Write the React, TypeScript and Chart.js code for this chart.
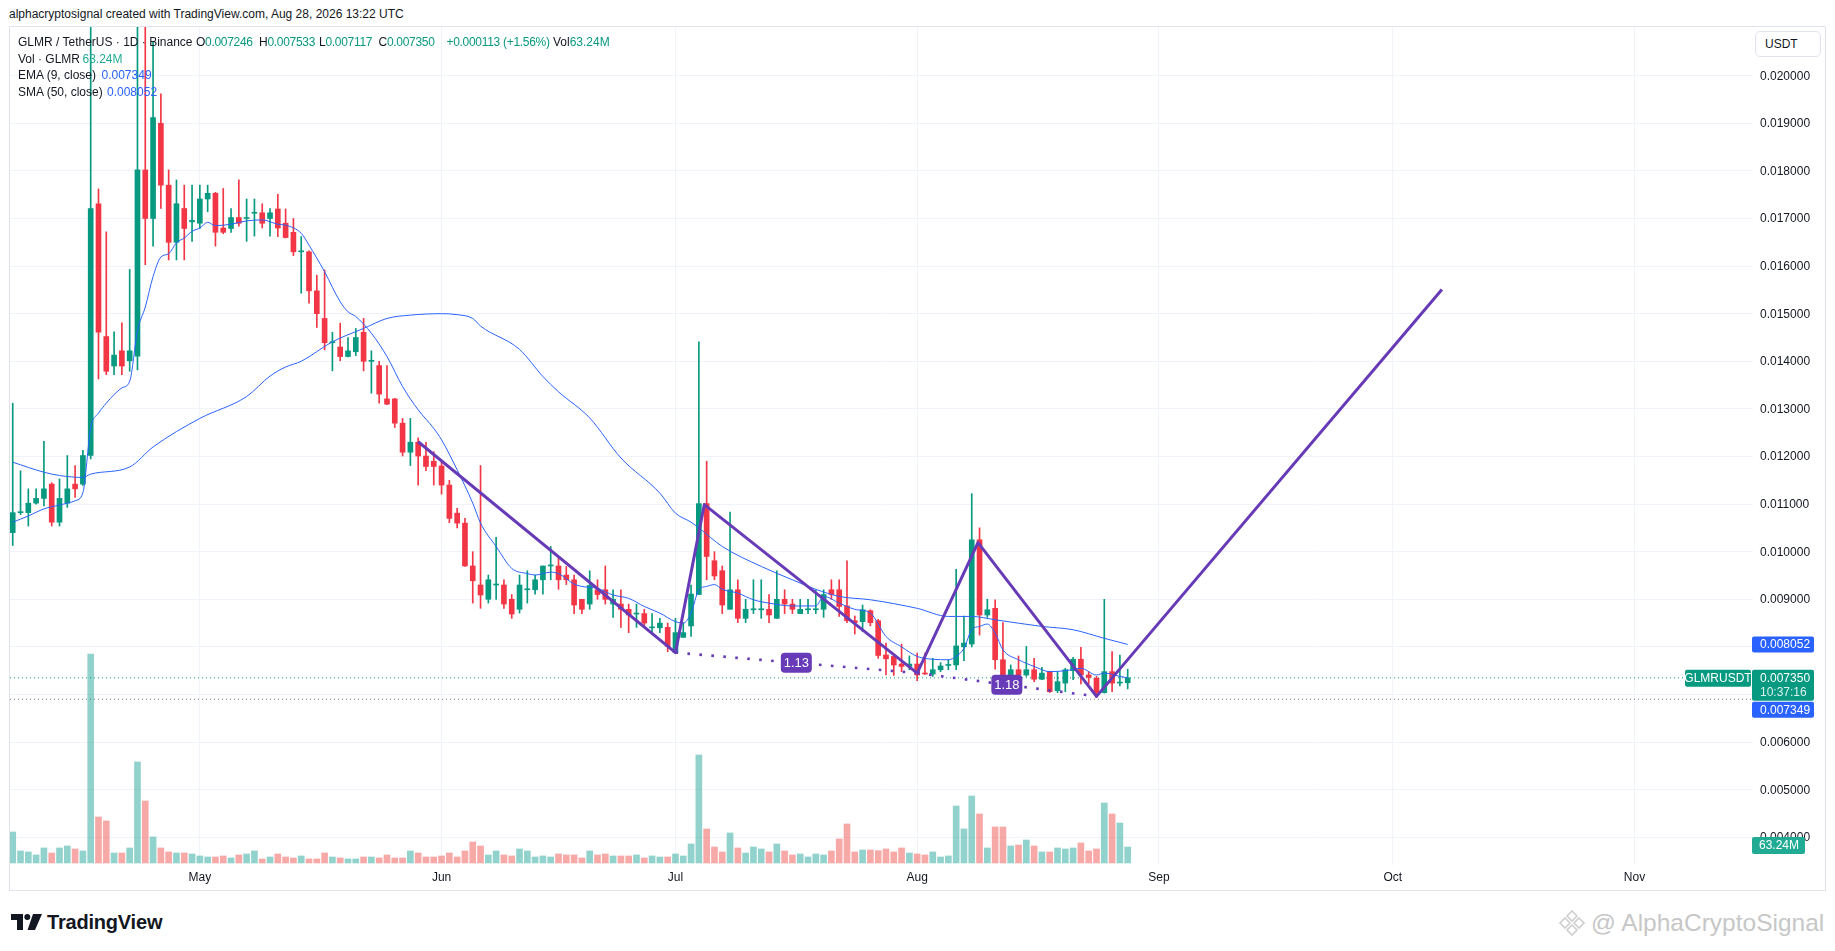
import React, { useEffect, useRef } from 'react';
import { Chart, registerables } from 'chart.js';

Chart.register(...registerables);

// ---------------- data (day index 0 = Apr 7, 2026, daily candles) ----------------
const monthTickDays = [24, 55, 85, 116, 147, 177, 208];
const monthTickLabels = ['May', 'Jun', 'Jul', 'Aug', 'Sep', 'Oct', 'Nov'];
const priceTicks = [0.004, 0.005, 0.006, 0.007, 0.008, 0.009, 0.01, 0.011, 0.012, 0.013, 0.014, 0.015, 0.016, 0.017, 0.018, 0.019, 0.02];
const hiddenPriceTicks = [0.007, 0.008];

const opens = [
  0.01040, 0.01082, 0.01082, 0.01102, 0.01112, 0.01142, 0.01062, 0.01102, 0.01142, 0.01142,
  0.01202, 0.01731, 0.01452, 0.01390, 0.01422, 0.01401, 0.01411, 0.01802, 0.01700, 0.01900,
  0.01770, 0.01650, 0.01721, 0.01693, 0.01690, 0.01741, 0.01753, 0.01680, 0.01679, 0.01702,
  0.01700, 0.01711, 0.01712, 0.01700, 0.01720, 0.01690, 0.01671, 0.01630, 0.01630, 0.01548,
  0.01490, 0.01439, 0.01430, 0.01410, 0.01420, 0.01461, 0.01400, 0.01391, 0.01321, 0.01321,
  0.01270, 0.01209, 0.01230, 0.01201, 0.01190, 0.01180, 0.01140, 0.01081, 0.01060, 0.00970,
  0.00930, 0.00900, 0.00930, 0.00930, 0.00900, 0.00879, 0.00920, 0.00920, 0.00941, 0.00970,
  0.00970, 0.00951, 0.00941, 0.00900, 0.00890, 0.00920, 0.00920, 0.00890, 0.00890, 0.00879,
  0.00869, 0.00870, 0.00840, 0.00840, 0.00841, 0.00788, 0.00820, 0.00844, 0.00910, 0.01101,
  0.00981, 0.00960, 0.00879, 0.00920, 0.00860, 0.00878, 0.00878, 0.00879, 0.00860, 0.00900,
  0.00890, 0.00870, 0.00878, 0.00878, 0.00879, 0.00920, 0.00920, 0.00886, 0.00855, 0.00853,
  0.00876, 0.00855, 0.00783, 0.00780, 0.00764, 0.00759, 0.00764, 0.00744, 0.00743, 0.00752,
  0.00761, 0.00762, 0.00800, 0.00806, 0.01025, 0.00867, 0.00881, 0.00773, 0.00729, 0.00752,
  0.00741, 0.00752, 0.00732, 0.00748, 0.00708, 0.00724, 0.00750, 0.00774, 0.00741, 0.00734,
  0.00704, 0.00748, 0.00724, 0.007246,
];
const highs = [
  0.01312, 0.01170, 0.01132, 0.01132, 0.01232, 0.01145, 0.01153, 0.01202, 0.01181, 0.01213,
  0.02150, 0.01762, 0.01672, 0.01462, 0.01481, 0.01593, 0.02150, 0.02130, 0.02071, 0.01962,
  0.01802, 0.01781, 0.01770, 0.01770, 0.01770, 0.01770, 0.01755, 0.01763, 0.01721, 0.01781,
  0.01741, 0.01741, 0.01731, 0.01721, 0.01751, 0.01720, 0.01700, 0.01662, 0.01632, 0.01581,
  0.01592, 0.01461, 0.01480, 0.01450, 0.01469, 0.01490, 0.01422, 0.01400, 0.01391, 0.01322,
  0.01280, 0.01280, 0.01239, 0.01230, 0.01210, 0.01190, 0.01150, 0.01091, 0.01070, 0.01000,
  0.01181, 0.00951, 0.01030, 0.00941, 0.00910, 0.00951, 0.00960, 0.00951, 0.00970, 0.01011,
  0.00990, 0.00969, 0.00951, 0.00900, 0.00960, 0.00941, 0.00970, 0.00920, 0.00920, 0.00890,
  0.00890, 0.00879, 0.00870, 0.00860, 0.00850, 0.00860, 0.00851, 0.00930, 0.01441, 0.01190,
  0.01000, 0.00970, 0.01083, 0.00941, 0.00900, 0.00941, 0.00941, 0.00910, 0.00960, 0.00920,
  0.00900, 0.00900, 0.00900, 0.00920, 0.00920, 0.00941, 0.00941, 0.00981, 0.00865, 0.00888,
  0.00878, 0.00858, 0.00808, 0.00783, 0.00806, 0.00781, 0.00787, 0.00787, 0.00776, 0.00767,
  0.00773, 0.00963, 0.00865, 0.01122, 0.01050, 0.00900, 0.00899, 0.00851, 0.00762, 0.00781,
  0.00801, 0.00776, 0.00757, 0.00749, 0.00748, 0.00755, 0.00778, 0.00799, 0.00748, 0.00738,
  0.00900, 0.00790, 0.00783, 0.007533,
];
const lows = [
  0.01013, 0.01078, 0.01054, 0.01100, 0.01096, 0.01054, 0.01054, 0.01093, 0.01114, 0.01139,
  0.01195, 0.01363, 0.01372, 0.01372, 0.01372, 0.01379, 0.01382, 0.01603, 0.01642, 0.01721,
  0.01613, 0.01613, 0.01613, 0.01652, 0.01679, 0.01714, 0.01642, 0.01668, 0.01671, 0.01684,
  0.01652, 0.01663, 0.01680, 0.01663, 0.01662, 0.01659, 0.01622, 0.01543, 0.01522, 0.01471,
  0.01424, 0.01380, 0.01401, 0.01409, 0.01412, 0.01380, 0.01333, 0.01312, 0.01309, 0.01261,
  0.01201, 0.01181, 0.01140, 0.01170, 0.01140, 0.01121, 0.01061, 0.01050, 0.00969, 0.00892,
  0.00881, 0.00892, 0.00900, 0.00881, 0.00860, 0.00871, 0.00892, 0.00911, 0.00911, 0.00941,
  0.00921, 0.00931, 0.00870, 0.00870, 0.00879, 0.00900, 0.00890, 0.00862, 0.00841, 0.00830,
  0.00841, 0.00841, 0.00830, 0.00830, 0.00790, 0.00788, 0.00820, 0.00822, 0.00910, 0.00941,
  0.00941, 0.00870, 0.00879, 0.00851, 0.00851, 0.00870, 0.00860, 0.00851, 0.00860, 0.00870,
  0.00870, 0.00870, 0.00870, 0.00870, 0.00862, 0.00900, 0.00864, 0.00851, 0.00827, 0.00832,
  0.00844, 0.00776, 0.00741, 0.00740, 0.00748, 0.00752, 0.00729, 0.00742, 0.00738, 0.00748,
  0.00752, 0.00752, 0.00771, 0.00800, 0.00825, 0.00862, 0.00753, 0.00727, 0.00725, 0.00727,
  0.00738, 0.00727, 0.00731, 0.00704, 0.00704, 0.00706, 0.00731, 0.00722, 0.00722, 0.00694,
  0.00703, 0.00706, 0.00718, 0.007117,
];
const closes = [
  0.01082, 0.01084, 0.01102, 0.01112, 0.01132, 0.01062, 0.01112, 0.01132, 0.01132, 0.01202,
  0.01721, 0.01461, 0.01379, 0.01413, 0.01390, 0.01422, 0.01802, 0.01700, 0.01912, 0.01770,
  0.01650, 0.01731, 0.01679, 0.01696, 0.01741, 0.01753, 0.01671, 0.01671, 0.01702, 0.01690,
  0.01701, 0.01713, 0.01690, 0.01712, 0.01680, 0.01660, 0.01630, 0.01631, 0.01548, 0.01500,
  0.01439, 0.01440, 0.01410, 0.01422, 0.01450, 0.01400, 0.01401, 0.01331, 0.01310, 0.01270,
  0.01209, 0.01230, 0.01201, 0.01179, 0.01179, 0.01140, 0.01070, 0.01060, 0.00970, 0.00939,
  0.00909, 0.00941, 0.00931, 0.00890, 0.00869, 0.00930, 0.00921, 0.00941, 0.00970, 0.00971,
  0.00941, 0.00941, 0.00888, 0.00879, 0.00929, 0.00910, 0.00900, 0.00900, 0.00879, 0.00867,
  0.00870, 0.00850, 0.00841, 0.00850, 0.00801, 0.00830, 0.00830, 0.00911, 0.01101, 0.00990,
  0.00949, 0.00888, 0.00920, 0.00860, 0.00879, 0.00879, 0.00879, 0.00867, 0.00900, 0.00890,
  0.00879, 0.00879, 0.00879, 0.00879, 0.00910, 0.00910, 0.00885, 0.00855, 0.00851, 0.00878,
  0.00851, 0.00782, 0.00775, 0.00762, 0.00759, 0.00764, 0.00741, 0.00743, 0.00752, 0.00760,
  0.00762, 0.00802, 0.00808, 0.01025, 0.00867, 0.00878, 0.00773, 0.00729, 0.00752, 0.00741,
  0.00752, 0.00732, 0.00745, 0.00706, 0.00727, 0.00752, 0.00774, 0.00741, 0.00736, 0.00704,
  0.00748, 0.00724, 0.00725, 0.00735,
];
const volumesM = [
  122.5, 47.4, 43.5, 31.6, 59.3, 39.5, 59.3, 67.2, 55.3, 47.4,
  826, 181.8, 166, 39.5, 39.5, 59.3, 399.2, 245, 102.8, 59.3,
  43.5, 39.5, 39.5, 35.6, 27.7, 23.7, 23.7, 27.7, 19.8, 31.6,
  35.6, 47.4, 15.8, 23.7, 35.6, 23.7, 19.8, 27.7, 15.8, 15.8,
  39.5, 23.7, 19.8, 15.8, 15.8, 23.7, 23.7, 19.8, 31.6, 19.8,
  19.8, 47.4, 39.5, 23.7, 23.7, 27.7, 39.5, 23.7, 47.4, 83,
  67.2, 31.6, 47.4, 31.6, 27.7, 55.3, 47.4, 23.7, 27.7, 23.7,
  35.6, 31.6, 31.6, 19.8, 47.4, 31.6, 35.6, 27.7, 27.7, 27.7,
  31.6, 19.8, 27.7, 23.7, 23.7, 35.6, 27.7, 75.1, 426.9, 134.4,
  63.2, 43.5, 118.6, 59.3, 39.5, 63.2, 55.3, 43.5, 75.1, 47.4,
  31.6, 35.6, 23.7, 35.6, 31.6, 47.4, 94.9, 154.1, 43.5, 51.4,
  51.4, 48.7, 55.3, 43.5, 59.3, 39.5, 35.6, 31.6, 43.5, 23.7,
  27.7, 225.3, 134.4, 264.8, 193.7, 59.3, 142.3, 142.3, 67.2, 71.1,
  90.9, 67.2, 43.5, 43.5, 59.3, 55.3, 59.3, 79, 47.4, 55.3,
  237.2, 193.7, 158.1, 63.24,
];

const emaDays = [0, 2, 4, 6, 8, 9, 10, 11, 12, 13, 14, 15, 16, 17, 18, 19, 20, 21, 22, 23, 24, 25, 26, 28, 30, 32, 34, 35, 37, 38, 40, 42, 43, 44, 46, 48, 50, 52, 54, 55, 57, 59, 60, 62, 64, 66, 67, 69, 70, 72, 73, 75, 77, 79, 81, 83, 85, 86, 87, 88, 89, 90, 91, 93, 95, 97, 100, 103, 104, 106, 108, 110, 112, 114, 116, 118, 120, 121, 122, 123, 124, 125, 126, 127, 129, 131, 133, 135, 137, 139, 140, 142, 143];
const emaValues = [0.01062, 0.01075, 0.0109, 0.01098, 0.01107, 0.01124, 0.0126, 0.01291, 0.01312, 0.0133, 0.01344, 0.01358, 0.01464, 0.01514, 0.01578, 0.01619, 0.01626, 0.01649, 0.01659, 0.01673, 0.0168, 0.01692, 0.01685, 0.01688, 0.01695, 0.01697, 0.01688, 0.01686, 0.01669, 0.01644, 0.01588, 0.01525, 0.01504, 0.01494, 0.01459, 0.0141, 0.01347, 0.01298, 0.01259, 0.01235, 0.01172, 0.01102, 0.0106, 0.01011, 0.00965, 0.00954, 0.00951, 0.00957, 0.00954, 0.00932, 0.00927, 0.00923, 0.00909, 0.00902, 0.00885, 0.00871, 0.00853, 0.0085, 0.00871, 0.0092, 0.00927, 0.00931, 0.00921, 0.00913, 0.00899, 0.00892, 0.00886, 0.00886, 0.00906, 0.00892, 0.00879, 0.00871, 0.00822, 0.008, 0.0078, 0.00774, 0.00773, 0.0078, 0.00797, 0.00836, 0.00843, 0.00848, 0.00829, 0.00794, 0.00773, 0.00759, 0.00748, 0.0075, 0.00755, 0.00741, 0.00745, 0.00738, 0.007349];

const smaDays = [0, 4, 6, 9, 10, 15, 18, 24, 30, 33, 35, 37, 41, 45, 48, 51, 55, 57, 59, 60, 65, 68, 70, 74, 78, 83, 85, 87, 88, 91, 96, 100, 103, 106, 110, 116, 120, 123, 126, 132, 136, 140, 143];
const smaValues = [0.01188, 0.01167, 0.0116, 0.01156, 0.01163, 0.01178, 0.0122, 0.0128, 0.01326, 0.01369, 0.01388, 0.014, 0.01441, 0.01469, 0.0149, 0.01497, 0.015, 0.01498, 0.0149, 0.01474, 0.01425, 0.01368, 0.01336, 0.01281, 0.01197, 0.01123, 0.01081, 0.01062, 0.0105, 0.01011, 0.00969, 0.00941, 0.00921, 0.00906, 0.00899, 0.00881, 0.00864, 0.00864, 0.00857, 0.00843, 0.00836, 0.00818, 0.008052];

const patternDays = [52, 85, 88.7, 116, 123.8, 139, 183.3];
const patternPrices = [0.01231, 0.00788, 0.01099, 0.00745, 0.01019, 0.00696, 0.01551];
const ratioLegStartDays = [85, 116];
const ratioLegStartPrices = [0.00788, 0.00745];
const ratioLegEndDays = [116, 139];
const ratioLegEndPrices = [0.00745, 0.00696];
const ratioLabels = ['1.13', '1.18'];

const lastPrice = 0.00735;
const lastPriceText = '0.007350';
const countdownText = '10:37:16';
const emaLast = 0.007349;
const smaLast = 0.008052;
const lastVolumeM = 63.24;
const lastVolumeText = '63.24M';
const referenceLevel = 0.0069;

// ---------------- styling constants ----------------
const FONT = "'Liberation Sans', Arial, sans-serif";
const UP = '#089981';
const DOWN = '#f23645';
const VOL_UP = 'rgba(38,166,154,0.5)';
const VOL_DOWN = 'rgba(239,83,80,0.5)';
const MA_BLUE = '#2962ff';
const PURPLE = '#673ab7';
const GRID = '#f0f3fa';
const TEXT = '#131722';
const X_MIN = -0.35;
const X_MAX = 223.2;
const Y_MIN = 0.003418;
const Y_MAX = 0.021023;

function box(ctx: CanvasRenderingContext2D, x: number, y: number, w: number, h: number, r: number, fill: string) {
  ctx.fillStyle = fill;
  ctx.beginPath();
  if ((ctx as any).roundRect) (ctx as any).roundRect(x, y, w, h, r);
  else ctx.rect(x, y, w, h);
  ctx.fill();
}

const labelPlugin = {
  id: 'tvLabels',
  afterDraw(chart: any) {
    const ctx: CanvasRenderingContext2D = chart.ctx;
    const area = chart.chartArea;
    const xs = chart.scales.x;
    const ys = chart.scales.y;
    const yv = chart.scales.yv;
    ctx.save();
    ctx.textBaseline = 'middle';

    // price-scale tick labels
    ctx.font = `12px ${FONT}`;
    ctx.fillStyle = TEXT;
    ctx.textAlign = 'left';
    priceTicks.forEach((v) => {
      if (hiddenPriceTicks.some((h) => Math.abs(h - v) < 1e-9)) return;
      ctx.fillText(v.toFixed(6), area.right + 7, ys.getPixelForValue(v) + 0.5);
    });

    // ratio labels on the dotted legs
    ctx.font = `13px ${FONT}`;
    ratioLabels.forEach((t, i) => {
      const cx = (xs.getPixelForValue(ratioLegStartDays[i]) + xs.getPixelForValue(ratioLegEndDays[i])) / 2;
      const cy = (ys.getPixelForValue(ratioLegStartPrices[i]) + ys.getPixelForValue(ratioLegEndPrices[i])) / 2;
      box(ctx, cx - 15.5, cy - 10, 31, 20, 4, PURPLE);
      ctx.fillStyle = '#ffffff';
      ctx.textAlign = 'center';
      ctx.fillText(t, cx, cy + 0.5);
    });

    ctx.font = `12px ${FONT}`;
    const axX = area.right - 1;
    const axW = 62;
    // SMA label
    const smaY = ys.getPixelForValue(smaLast);
    box(ctx, axX, smaY - 8, axW, 16, 2, MA_BLUE);
    ctx.fillStyle = '#fff';
    ctx.textAlign = 'left';
    ctx.fillText(smaLast.toFixed(6), axX + 8, smaY + 0.5);

    // last price label (two lines) + symbol label
    const lpY = ys.getPixelForValue(lastPrice);
    const top = lpY - 8;
    box(ctx, axX, top, axW, 31, 2, UP);
    ctx.fillStyle = '#fff';
    ctx.fillText(lastPriceText, axX + 8, top + 8.5);
    ctx.fillStyle = 'rgba(255,255,255,0.85)';
    ctx.fillText(countdownText, axX + 8, top + 23);
    box(ctx, area.right - 68, top, 66, 17, 2, UP);
    ctx.fillStyle = '#fff';
    ctx.textAlign = 'center';
    ctx.fillText('GLMRUSDT', area.right - 35, top + 9);

    // EMA label pushed below the price label
    const emaTop = top + 32;
    box(ctx, axX, emaTop, axW, 16, 2, MA_BLUE);
    ctx.fillStyle = '#fff';
    ctx.textAlign = 'left';
    ctx.fillText(emaLast.toFixed(6), axX + 8, emaTop + 8.5);

    // volume label
    const vY = yv.getPixelForValue(lastVolumeM) - 1.5;
    box(ctx, axX, vY - 8.5, 53, 17, 2, '#22ab94');
    ctx.fillStyle = '#fff';
    ctx.fillText(lastVolumeText, axX + 7, vY + 0.5);
    ctx.restore();
  },
};

export default function App() {
  const canvasRef = useRef<HTMLCanvasElement>(null);

  useEffect(() => {
    const canvas = canvasRef.current;
    if (!canvas) return;
    const isUp = closes.map((c, i) => c >= opens[i]);
    const candleColors = isUp.map((u) => (u ? UP : DOWN));
    const volColors = isUp.map((u) => (u ? VOL_UP : VOL_DOWN));

    const chart = new Chart(canvas, {
      type: 'bar',
      data: {
        datasets: [
          {
            type: 'bar',
            label: 'Volume',
            yAxisID: 'yv',
            data: volumesM.map((v, i) => ({ x: i, y: v })),
            backgroundColor: volColors,
            barThickness: 6,
            grouped: false,
            order: 10,
          } as any,
          {
            type: 'line',
            label: 'Level',
            yAxisID: 'y',
            data: [{ x: X_MIN, y: referenceLevel }, { x: X_MAX, y: referenceLevel }],
            borderColor: '#787b86',
            borderWidth: 1,
            borderDash: [1, 3],
            pointRadius: 0,
            order: 9,
          },
          {
            type: 'line',
            label: 'Last price',
            yAxisID: 'y',
            data: [{ x: X_MIN, y: lastPrice }, { x: X_MAX, y: lastPrice }],
            borderColor: UP,
            borderWidth: 1,
            borderDash: [1, 3],
            pointRadius: 0,
            order: 9,
          },
          {
            type: 'bar',
            label: 'Wicks',
            yAxisID: 'y',
            data: lows.map((l, i) => ({ x: i, y: [l, highs[i]] })),
            backgroundColor: candleColors,
            barThickness: 1,
            grouped: false,
            order: 6,
          } as any,
          {
            type: 'bar',
            label: 'Bodies',
            yAxisID: 'y',
            data: opens.map((o, i) => ({ x: i, y: [o, closes[i]] })),
            backgroundColor: candleColors,
            barThickness: 5,
            minBarLength: 1,
            grouped: false,
            order: 5,
          } as any,
          {
            type: 'line',
            label: 'SMA (50, close)',
            yAxisID: 'y',
            data: smaDays.map((d, i) => ({ x: d, y: smaValues[i] })),
            borderColor: MA_BLUE,
            borderWidth: 1,
            pointRadius: 0,
            cubicInterpolationMode: 'monotone',
            order: 4,
          },
          {
            type: 'line',
            label: 'EMA (9, close)',
            yAxisID: 'y',
            data: emaDays.map((d, i) => ({ x: d, y: emaValues[i] })),
            borderColor: MA_BLUE,
            borderWidth: 1,
            pointRadius: 0,
            cubicInterpolationMode: 'monotone',
            order: 4,
          },
          ...ratioLabels.map((t, i) => ({
            type: 'line' as const,
            label: 'Ratio ' + t,
            yAxisID: 'y',
            data: [
              { x: ratioLegStartDays[i], y: ratioLegStartPrices[i] },
              { x: ratioLegEndDays[i], y: ratioLegEndPrices[i] },
            ],
            borderColor: PURPLE,
            borderWidth: 2.6,
            borderDash: [2.6, 9.4],
            pointRadius: 0,
            order: 2,
          })),
          {
            type: 'line',
            label: 'Pattern',
            yAxisID: 'y',
            data: patternDays.map((d, i) => ({ x: d, y: patternPrices[i] })),
            borderColor: PURPLE,
            borderWidth: 3,
            borderJoinStyle: 'round',
            pointRadius: 0,
            order: 1,
          },
        ] as any,
      },
      options: {
        responsive: false,
        maintainAspectRatio: false,
        animation: false,
        events: [],
        layout: { padding: 0, autoPadding: false } as any,
        plugins: { legend: { display: false }, tooltip: { enabled: false } },
        scales: {
          x: {
            type: 'linear',
            min: X_MIN,
            max: X_MAX,
            offset: false,
            afterBuildTicks: (s: any) => {
              s.ticks = monthTickDays.map((v) => ({ value: v }));
            },
            afterFit: (s: any) => {
              s.height = 25;
            },
            ticks: {
              autoSkip: false,
              maxRotation: 0,
              padding: 5,
              color: TEXT,
              font: { family: FONT, size: 12 },
              callback: (v: any) => {
                const k = monthTickDays.indexOf(Number(v));
                return k >= 0 ? monthTickLabels[k] : '';
              },
            },
            grid: { color: GRID, drawTicks: false, offset: false },
            border: { display: false },
          },
          y: {
            type: 'linear',
            position: 'right',
            min: Y_MIN,
            max: Y_MAX,
            afterBuildTicks: (s: any) => {
              s.ticks = priceTicks.map((v) => ({ value: v }));
            },
            afterFit: (s: any) => {
              s.width = 72;
            },
            ticks: { display: false },
            grid: { color: GRID, drawTicks: false, offset: false },
            border: { display: false },
          },
          yv: {
            type: 'linear',
            display: false,
            min: -8,
            max: 3304,
          },
        },
      } as any,
      plugins: [labelPlugin],
    });

    return () => chart.destroy();
  }, []);

  const green = { color: UP };
  const blue = { color: MA_BLUE };
  const tight = { letterSpacing: '-0.3px' };
  const row = (top: number): React.CSSProperties => ({ position: 'absolute', top, left: 0, height: 16, lineHeight: '16px', whiteSpace: 'nowrap' });
  const at = (left: number): React.CSSProperties => ({ position: 'absolute', left, top: 0 });

  return (
    <div
      style={{
        position: 'absolute',
        left: 0,
        top: 0,
        width: 1835,
        height: 951,
        background: '#ffffff',
        overflow: 'hidden',
        fontFamily: FONT,
        fontSize: 12,
        color: TEXT,
      }}
    >
      <div style={{ position: 'absolute', left: 9, top: 6, lineHeight: '16px', whiteSpace: 'nowrap' }}>
        alphacryptosignal created with TradingView.com, Aug 28, 2026 13:22 UTC
      </div>
      <div
        style={{
          position: 'absolute',
          left: 9,
          top: 26,
          width: 1817,
          height: 865,
          boxSizing: 'border-box',
          border: '1px solid #e0e3eb',
        }}
      />
      <canvas
        ref={canvasRef}
        width={1815}
        height={863}
        style={{ position: 'absolute', left: 10, top: 27, width: 1815, height: 863 }}
      />
      {/* legend */}
      <div style={{ position: 'absolute', left: 18, top: 34, width: 700, height: 70, pointerEvents: 'none' }}>
        <div style={row(0)}>
          <span style={at(0)}>GLMR / TetherUS · 1D · Binance</span>
          <span style={{ ...at(178), ...tight }}>O<span style={green}>0.007246</span></span>
          <span style={{ ...at(241), ...tight }}>H<span style={green}>0.007533</span></span>
          <span style={{ ...at(301), ...tight }}>L<span style={green}>0.007117</span></span>
          <span style={{ ...at(360.5), ...tight }}>C<span style={green}>0.007350</span></span>
          <span style={{ ...at(428.5), ...green, ...tight }}>+0.000113 (+1.56%)</span>
          <span style={at(535)}>Vol<span style={green}>63.24M</span></span>
        </div>
        <div style={row(16.7)}>
          <span style={at(0)}>Vol · GLMR</span>
          <span style={{ ...at(64.5), color: '#22ab94' }}>63.24M</span>
        </div>
        <div style={row(33.4)}>
          <span style={at(0)}>EMA (9, close)</span>
          <span style={{ ...at(83.5), ...blue }}>0.007349</span>
        </div>
        <div style={row(50.1)}>
          <span style={at(0)}>SMA (50, close)</span>
          <span style={{ ...at(89), ...blue }}>0.008052</span>
        </div>
      </div>
      {/* currency box */}
      <div
        style={{
          position: 'absolute',
          left: 1755,
          top: 31,
          width: 66,
          height: 26,
          boxSizing: 'border-box',
          border: '1px solid #e0e3eb',
          borderRadius: 5,
          background: '#fff',
          lineHeight: '24px',
          paddingLeft: 9,
        }}
      >
        USDT
      </div>
      {/* TradingView logo */}
      <div style={{ position: 'absolute', left: 11, top: 912, height: 20, display: 'flex', alignItems: 'center' }}>
        <svg width="31" height="16" viewBox="0 0 31 16" style={{ display: 'block' }}>
          <path d="M0 0h12v16h-6v-10h-6z" fill={TEXT} />
          <circle cx="16.3" cy="3" r="3" fill={TEXT} />
          <path d="M22 0h9l-7 16h-7.5z" fill={TEXT} />
        </svg>
        <span style={{ marginLeft: 5, fontSize: 20, fontWeight: 700, letterSpacing: -0.2, lineHeight: '20px' }}>TradingView</span>
      </div>
      {/* watermark */}
      <div style={{ position: 'absolute', left: 1558, top: 906, height: 34, display: 'flex', alignItems: 'center', color: '#c7c7c7' }}>
        <svg width="28" height="28" viewBox="0 0 28 28" style={{ display: 'block' }}>
          <g fill="none" stroke="#cfcfcf" strokeWidth="1.6">
            <path d="M14 2l5 5-5 5-5-5z" />
            <path d="M7 9l5 5-5 5-5-5z" />
            <path d="M21 9l5 5-5 5-5-5z" />
            <path d="M14 16l5 5-5 5-5-5z" />
          </g>
        </svg>
        <span style={{ marginLeft: 5, fontSize: 24.5, lineHeight: '34px', whiteSpace: 'nowrap' }}>@ AlphaCryptoSignal</span>
      </div>
    </div>
  );
}
